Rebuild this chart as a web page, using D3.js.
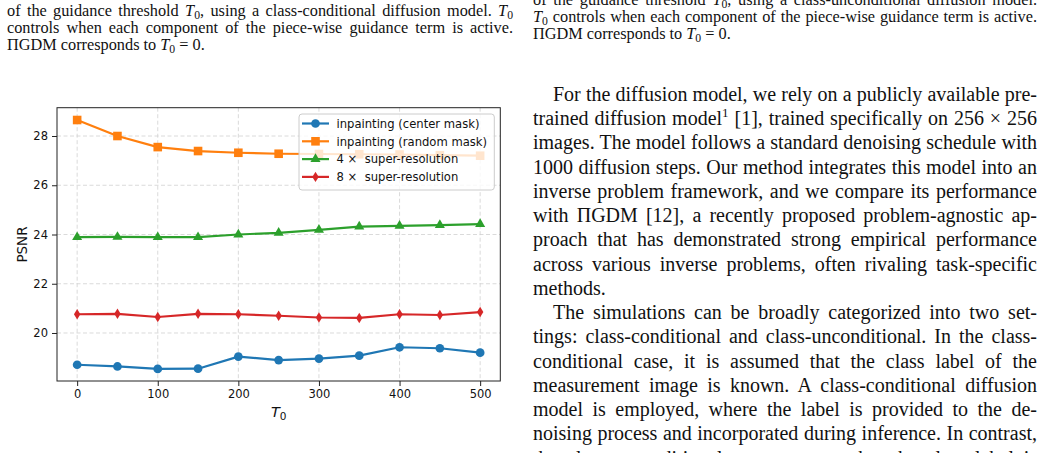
<!DOCTYPE html>
<html>
<head>
<meta charset="utf-8">
<script src="https://cdn.jsdelivr.net/npm/d3@7"></script>
<style>
  html, body { margin: 0; padding: 0; background: #fff; }
  svg { display: block; }
</style>
</head>
<body>
<div id="content"></div>
<script>
// ---- chart data
const t0Values   = [0, 50, 100, 150, 200, 250, 300, 350, 400, 450, 500];
const centerMask = [18.71, 18.64, 18.54, 18.55, 19.04, 18.90, 18.96, 19.08, 19.42, 19.38, 19.20];
const randomMask = [28.65, 28.00, 27.55, 27.39, 27.32, 27.28, 27.27, 27.26, 27.25, 27.22, 27.20];
const superRes4  = [23.89, 23.90, 23.89, 23.89, 24.00, 24.07, 24.19, 24.32, 24.35, 24.38, 24.42];
const superRes8  = [20.76, 20.78, 20.65, 20.78, 20.76, 20.70, 20.63, 20.61, 20.76, 20.73, 20.85];
const seriesNames = ["inpainting (center mask)", "inpainting (random mask)", "4 \u00d7  super-resolution", "8 \u00d7  super-resolution"];
const xTicks = [0, 100, 200, 300, 400, 500];
const yTicks = [20, 22, 24, 26, 28];

// ---- page text around the figure ($ = T_0, ^ = superscript 1)
const leftCaption = [
    "of the guidance threshold $, using a class-conditional diffusion model. $",
    "controls when each component of the piece-wise guidance term is active.",
    "\u03a0GDM corresponds to $ = 0."
];
const rightCaption = [
    "of the guidance threshold $, using a class-unconditional diffusion model.",
    "$ controls when each component of the piece-wise guidance term is active.",
    "\u03a0GDM corresponds to $ = 0."
];
const bodyText = [
    "For the diffusion model, we rely on a publicly available pre-",
    "trained diffusion model^ [1], trained specifically on 256 \u00d7 256",
    "images. The model follows a standard denoising schedule with",
    "1000 diffusion steps. Our method integrates this model into an",
    "inverse problem framework, and we compare its performance",
    "with \u03a0GDM [12], a recently proposed problem-agnostic ap-",
    "proach that has demonstrated strong empirical performance",
    "across various inverse problems, often rivaling task-specific",
    "methods.",
    "The simulations can be broadly categorized into two set-",
    "tings: class-conditional and class-unconditional. In the class-",
    "conditional case, it is assumed that the class label of the",
    "measurement image is known. A class-conditional diffusion",
    "model is employed, where the label is provided to the de-",
    "noising process and incorporated during inference. In contrast,",
    "the class-unconditional case assumes that the class label is"
];

const W = 1041, H = 453;
const svg = d3.select("#content").append("svg")
    .attr("width", W).attr("height", H);
svg.append("rect").attr("width", W).attr("height", H).attr("fill", "#fff");

//////////////////// paper text
function writeLine(x, y, str, size, right, justify){
    const t = svg.append("text")
        .attr("x", x).attr("y", y)
        .attr("font-family", "'Liberation Serif', 'Times New Roman', serif")
        .attr("font-size", size)
        .attr("fill", "#111")
        .style("white-space", "pre");
    const parts = str.split(/(\$|\^)/);
    let shifted = 0;
    parts.forEach(p => {
        if (p === "") return;
        if (p === "$") {
            t.append("tspan").attr("dy", -shifted).attr("font-style", "italic").text("T");
            t.append("tspan").attr("dy", size*0.22).attr("font-size", size*0.72).text("0");
            shifted = size*0.22;
        } else if (p === "^") {
            t.append("tspan").attr("dy", -shifted - size*0.38).attr("font-size", size*0.65).text("1");
            shifted = -size*0.38;
        } else {
            t.append("tspan").attr("dy", -shifted).text(p);
            shifted = 0;
        }
    });
    if (justify) {
        const natural = t.node().getComputedTextLength();
        const spaces = (str.match(/ /g) || []).length;
        if (spaces > 0) t.attr("word-spacing", (right - x - natural) / spaces);
    }
}

leftCaption.forEach((s, i) => writeLine(7, 15.8 + i*17, s, 16.3, 513, i < 2));
rightCaption.forEach((s, i) => writeLine(533, 4.5 + i*17, s, 16.3, 1037, i < 2));
bodyText.forEach((s, i) => {
    const indent = (i === 0 || i === 9) ? 20 : 0;
    const justify = !(i === 8);
    writeLine(533 + indent, 100.8 + i*24.25, s, 20, 1037, justify);
});

//////////////////// chart
const x = d3.scaleLinear().domain([-25, 525]).range([57, 500.3]);
const y = d3.scaleLinear().domain([18.05, 29.15]).range([381, 107.7]);
const series = [
    { name: seriesNames[0], values: centerMask, color: "#1f77b4", marker: "circle" },
    { name: seriesNames[1], values: randomMask, color: "#ff7f0e", marker: "square" },
    { name: seriesNames[2], values: superRes4,  color: "#2ca02c", marker: "triangle" },
    { name: seriesNames[3], values: superRes8,  color: "#d62728", marker: "thindiamond" }
];

function markerPath(kind){
    if (kind === "circle")   return d3.symbol(d3.symbolCircle, 60)();
    if (kind === "square")   return d3.symbol(d3.symbolSquare, 74)();
    if (kind === "triangle") return d3.symbol(d3.symbolTriangle, 44)();
    return "M0,-5.2L3.2,0L0,5.2L-3.2,0Z";   // matplotlib 'd'
}

const chart = svg.append("g").attr("font-family", "'DejaVu Sans', sans-serif");

// grid
chart.append("g").selectAll("line").data(xTicks).enter().append("line")
    .attr("x1", d => x(d)).attr("x2", d => x(d))
    .attr("y1", y.range()[1]).attr("y2", y.range()[0])
    .attr("stroke", "#d0d0d0").attr("stroke-width", 0.8).attr("stroke-dasharray", "4,2.5");
chart.append("g").selectAll("line").data(yTicks).enter().append("line")
    .attr("x1", x.range()[0]).attr("x2", x.range()[1])
    .attr("y1", d => y(d)).attr("y2", d => y(d))
    .attr("stroke", "#d0d0d0").attr("stroke-width", 0.8).attr("stroke-dasharray", "4,2.5");

// lines + markers
const line = d3.line().x((d, i) => x(t0Values[i])).y(d => y(d));
series.forEach(s => {
    chart.append("path")
        .attr("d", line(s.values))
        .attr("fill", "none").attr("stroke", s.color).attr("stroke-width", 2.2)
        .attr("stroke-linejoin", "round");
    chart.append("g").selectAll("path").data(s.values).enter().append("path")
        .attr("d", markerPath(s.marker))
        .attr("transform", (d, i) => "translate(" + x(t0Values[i]) + "," + y(d) + ")")
        .attr("fill", s.color);
});

// spines
chart.append("rect")
    .attr("x", x.range()[0]).attr("y", y.range()[1])
    .attr("width", x.range()[1] - x.range()[0])
    .attr("height", y.range()[0] - y.range()[1])
    .attr("fill", "none").attr("stroke", "#222").attr("stroke-width", 1);

// axes
const xAxis = chart.append("g")
    .attr("transform", "translate(0," + y.range()[0] + ")")
    .call(d3.axisBottom(x).tickValues(xTicks).tickSize(5).tickSizeOuter(0).tickPadding(4));
const yAxis = chart.append("g")
    .attr("transform", "translate(" + x.range()[0] + ",0)")
    .call(d3.axisLeft(y).tickValues(yTicks).tickSize(5).tickSizeOuter(0).tickPadding(4));
[xAxis, yAxis].forEach(a => {
    a.select(".domain").remove();
    a.selectAll("line").attr("stroke", "#222");
    a.selectAll("text").attr("font-family", "'DejaVu Sans', sans-serif")
        .attr("font-size", 11.5).attr("fill", "#111");
});

// axis labels
chart.append("text")
    .attr("transform", "translate(26.5,244.5) rotate(-90)")
    .attr("text-anchor", "middle").attr("font-size", 13.5).attr("fill", "#111")
    .text("PSNR");
const xl = chart.append("text")
    .attr("x", (x.range()[0] + x.range()[1]) / 2).attr("y", 416.5)
    .attr("text-anchor", "middle").attr("font-size", 14.5).attr("fill", "#111");
xl.append("tspan").attr("font-style", "italic").text("T");
xl.append("tspan").attr("font-size", 10.5).attr("dy", 3).text("0");

// legend
const lg = chart.append("g");
lg.append("rect")
    .attr("x", 299).attr("y", 114).attr("width", 195.3).attr("height", 76)
    .attr("rx", 3)
    .attr("fill", "#fff").attr("fill-opacity", 0.8)
    .attr("stroke", "#cccccc").attr("stroke-width", 1);
series.forEach((s, i) => {
    const cy = 123.5 + i*17.8;
    lg.append("line").attr("x1", 302).attr("x2", 329).attr("y1", cy).attr("y2", cy)
        .attr("stroke", s.color).attr("stroke-width", 2.2);
    lg.append("path").attr("d", markerPath(s.marker))
        .attr("transform", "translate(315.5," + cy + ")").attr("fill", s.color);
    lg.append("text").attr("x", 336.5).attr("y", cy + 4.2)
        .attr("font-size", 11.6).attr("fill", "#111")
        .style("white-space", "pre")
        .text(s.name);
});
</script>
</body>
</html>
